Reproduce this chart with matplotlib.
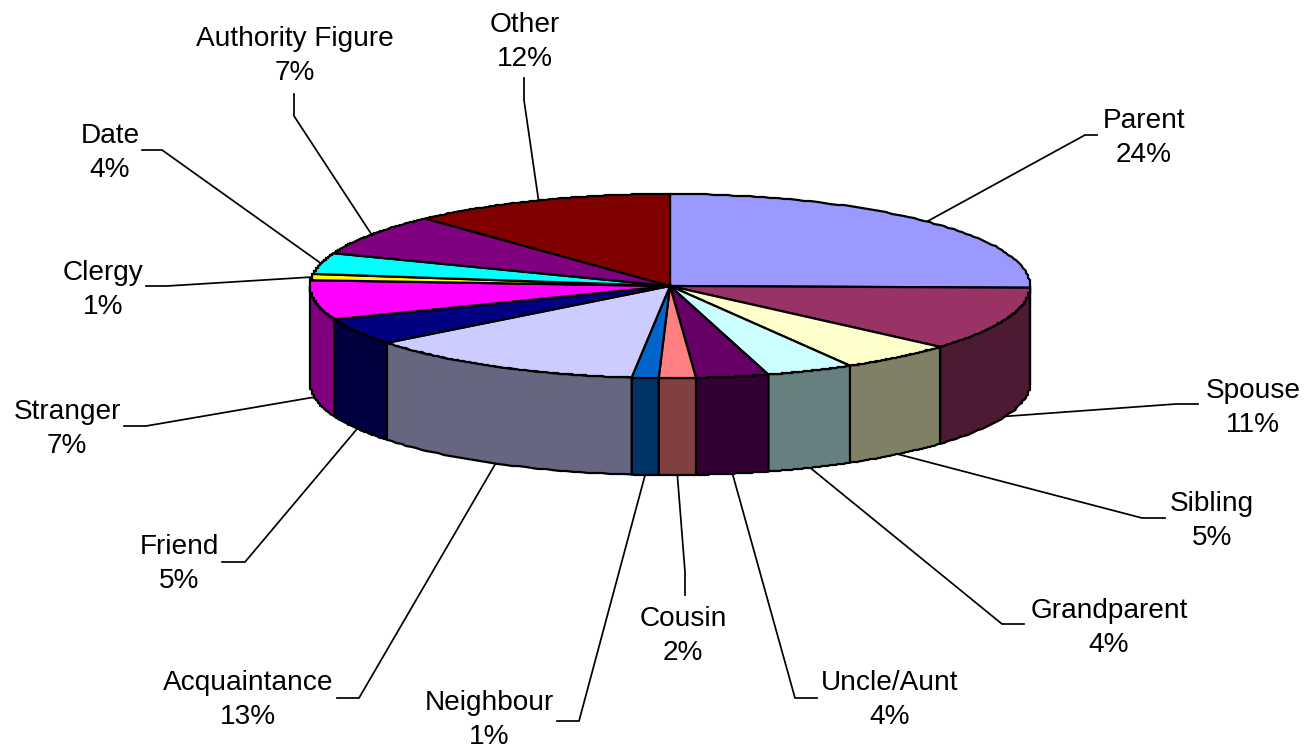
import matplotlib
matplotlib.use('Agg')
import matplotlib.pyplot as plt
from matplotlib.patches import Polygon
import numpy as np

plt.rcParams['font.family'] = ['Liberation Sans', 'DejaVu Sans']

categories = ['Parent', 'Spouse', 'Sibling', 'Grandparent', 'Uncle/Aunt', 'Cousin', 'Neighbour',
              'Acquaintance', 'Friend', 'Stranger', 'Clergy', 'Date', 'Authority Figure', 'Other']
# printed percentages
percents = [24, 11, 5, 4, 4, 2, 1, 13, 5, 7, 1, 4, 7, 12]
# slice sizes as drawn (the perspective stretches them a bit away from the printed numbers)
shares = [25.3, 11.2, 5.17, 3.93, 3.25, 1.65, 1.2, 12.7, 4.7, 6.9, 1.1, 3.7, 7.3, 11.9]
colors = ['#9999FF', '#993366', '#FFFFCC', '#CCFFFF', '#660066', '#FF8080', '#0066CC',
          '#CCCCFF', '#000080', '#FF00FF', '#FFFF00', '#00FFFF', '#800080', '#800000']

# label centres and leader line bends, in pixels
label_xy = [(1144, 138), (1253, 408), (1212, 521), (1109, 628), (890, 700), (683, 636), (489, 720),
            (248, 700), (179, 564), (67, 429), (103, 290), (110, 153), (295, 56), (525, 42)]
bend_xy = [[(1085, 135), (1097, 135)], [(1176, 404), (1198, 404)], [(1142, 518), (1165, 518)],
           [(1002, 624), (1024, 624)], [(795, 698), (817, 698)], [(685, 572), (685, 595)],
           [(579, 721), (557, 721)], [(359, 698), (337, 698)], [(245, 562), (222, 562)],
           [(146, 426), (124, 426)], [(167, 286), (146, 286)], [(162, 150), (142, 150)],
           [(294, 116), (294, 94)], [(524, 100), (524, 78)]]

cx, cy = 670, 286
rx, ry = 360, 92
depth = 97


def rim(theta):
    # theta in degrees, clockwise from 12 o'clock
    t = np.radians(theta)
    return cx + rx * np.sin(t), cy - ry * np.cos(t)


def stepped(xs, ys):
    # the original rim is a small pixel staircase, ends of each arc stay exact
    sx, sy = np.round(xs / 2) * 2, np.round(ys)
    sx[[0, -1]] = xs[[0, -1]]
    sy[[0, -1]] = ys[[0, -1]]
    return sx, sy


fig = plt.figure(figsize=(13.11, 7.5), dpi=100)
ax = fig.add_axes([0, 0, 1, 1])
ax.set_xlim(0, 1311)
ax.set_ylim(750, 0)
ax.axis('off')

edges = np.cumsum([0] + shares) / np.sum(shares) * 360

# leader lines first, the pie sits on top of their ends
for i in range(len(categories)):
    mid = (edges[i] + edges[i + 1]) / 2
    x0, y0 = rim(mid)
    if 90 < mid < 270:
        y0 += depth
    pts = [(x0, y0)] + bend_xy[i]
    ax.plot([p[0] for p in pts], [p[1] for p in pts], color='black', lw=1.25, zorder=1)
    ax.text(label_xy[i][0], label_xy[i][1], '%s\n%d%%' % (categories[i], percents[i]),
            ha='center', va='center', fontsize=20.2, linespacing=1.41, color='black', zorder=5)

# side wall, only the front half shows
for i in range(len(categories)):
    a = max(edges[i], 90)
    b = min(edges[i + 1], 270)
    if b <= a:
        continue
    th = np.linspace(a, b, 40)
    xs, ys = stepped(*rim(th))
    pts = np.vstack([np.column_stack([xs, ys]),
                     np.column_stack([xs[::-1], ys[::-1] + depth])])
    side = tuple(0.5 * c for c in matplotlib.colors.to_rgb(colors[i]))
    ax.add_patch(Polygon(pts, closed=True, facecolor=side, edgecolor='black', lw=1.6,
                         joinstyle='round', zorder=2))

# top face
for i in range(len(categories)):
    th = np.linspace(edges[i], edges[i + 1], 80)
    xs, ys = stepped(*rim(th))
    pts = np.vstack([[cx, cy], np.column_stack([xs, ys])])
    ax.add_patch(Polygon(pts, closed=True, facecolor=colors[i], edgecolor='black', lw=1.6,
                         joinstyle='miter', zorder=3))

fig.savefig('out.png', dpi=100, facecolor='white')
